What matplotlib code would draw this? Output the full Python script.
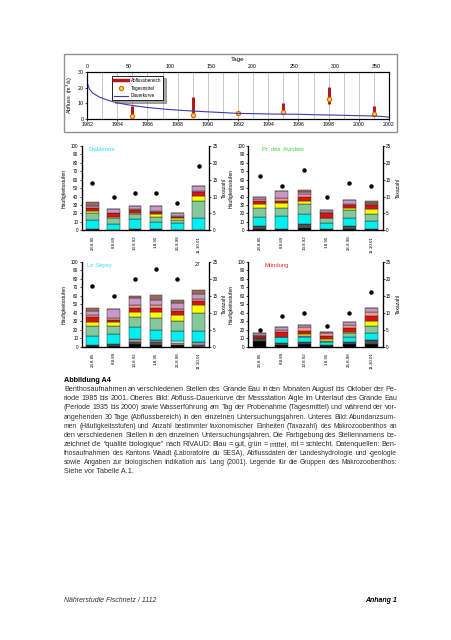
import numpy as np
import matplotlib
matplotlib.use("Agg")
import matplotlib.pyplot as plt
from matplotlib.patches import Rectangle
from matplotlib.lines import Line2D

plt.rcParams['font.family'] = ['Liberation Sans', 'DejaVu Sans']

W, H = 452, 640

# ---------------- data: upper chart ----------------
years = [1985, 1989, 1992, 1995, 1998, 2001]
q_low = [2.0, 2.5, 2.5, 3.6, 9.8, 2.0]       # Abflussbereich min
q_high = [8.0, 14.0, 4.5, 10.4, 20.4, 8.3]   # Abflussbereich max
q_mean = [1.9, 2.3, 3.6, 4.7, 12.6, 3.2]     # Tagesmittel

dk_days = [0, 3, 7, 15, 25, 36, 50, 72, 100, 130, 160, 182, 220, 257, 275, 300, 320, 340, 355, 365]
dk_q = [23.5, 19, 16.5, 14, 12, 10.4, 9, 7.4, 6, 5, 4.2, 3.6, 3.2, 3.0, 2.7, 2.5, 2.2, 2.0, 1.7, 1.2]

# ---------------- data: lower panels ----------------
dates = ["23.8.85", "8.8.89", "13.8.92", "1.8.95", "26.8.98", "11.10.01"]
group_colors = ['#000000', '#505050', '#9a9a9a', '#ffffff', '#00f0f0', '#84c89c',
                '#ffff00', '#e01010', '#f09a88', '#c898c8', '#9a6a58']

# segment heights per bar, bottom -> top, in order of group_colors
diablerets = [
    [2, 0, 0, 0, 10, 9, 2, 3, 1, 2, 4],
    [0, 0, 0, 0, 8, 6, 2, 4, 1, 4, 0],
    [2, 0, 0, 0, 11, 6, 2, 3, 1, 4, 0],
    [1.5, 0, 0, 0, 8.5, 6, 3, 3, 1, 6, 0],
    [0, 0, 0, 0, 8.5, 3.5, 3, 1, 1, 3.5, 0],
    [0, 0, 0, 0, 14, 21, 6, 5, 1, 6, 0],
]
aviolats = [
    [2, 3, 0, 0, 10.5, 11, 4.5, 4, 2, 2, 0],
    [1, 0, 0, 0, 16, 10, 5, 3, 3, 8.5, 0],
    [3, 5, 0, 0, 11, 12, 4, 5, 3, 3, 1.5],
    [1, 0, 0, 0, 7.5, 5.5, 1, 5, 2, 1.7, 0],
    [2, 3, 0, 0, 9, 10, 3, 3, 1, 4.5, 0],
    [1, 0, 0, 0, 9.5, 9, 6, 5, 1, 1, 2],
]
sepey = [
    [1, 1, 0, 0, 11, 12, 4, 6, 2, 5, 3.7],
    [1, 2, 0, 0, 11.5, 10.5, 4, 3, 2, 10, 0],
    [3, 3, 3, 0, 14, 12.5, 5.5, 5, 3, 8, 3],
    [2, 3, 3, 0, 12, 14, 7, 5, 3, 6, 6],
    [2, 0, 2, 3, 12, 11, 7, 5, 3, 7, 3],
    [0, 2, 3, 0, 13, 22, 9, 5, 2, 6, 5],
]
muendung = [
    [7, 3, 0, 0, 0, 0, 0, 3, 1, 1.7, 0],
    [2, 2, 0, 0, 7, 1, 0, 5, 3, 3.6, 0],
    [3, 2, 0, 0, 6, 2, 2, 4, 4, 2.6, 0],
    [1, 1, 0, 0, 4, 1, 2, 4, 3, 1, 0],
    [3, 2, 0, 0, 7, 4, 1, 5, 4, 3, 0],
    [3, 5, 0, 0, 8, 8, 6, 6, 5, 4.7, 0],
]
taxa_diablerets = [14, 10, 11, 11, 8, 19]
taxa_aviolats = [16, 13, 18, 10, 14, 13]
taxa_sepey = [18, 15, 20, 23, 20, 27]
taxa_muendung = [5, 9, 10, 6, 10, 16]

caption_lines = [
    "Benthosaufnahmen an verschiedenen Stellen des Grande Eau in den Monaten August bis Oktober der Pe-",
    "riode 1985 bis 2001. Oberes Bild: Abfluss-Dauerkurve der Messstation Aigle im Unterlauf des Grande Eau",
    "(Periode 1935 bis 2000) sowie Wasserführung am Tag der Probenahme (Tagesmittel) und während der vor-",
    "angehenden 30 Tage (Abflussbereich) in den einzelnen Untersuchungsjahren. Unteres Bild: Abundanzsum-",
    "men (Häufigkeitsstufen) und Anzahl bestimmter taxonomischer Einheiten (Taxazahl) des Makrozoobenthos an",
    "den verschiedenen Stellen in den einzelnen Untersuchungsjahren. Die Farbgebung des Stellennamens be-",
    "zeichnet die “qualité biologique” nach RIVAUD: Blau = gut, grün = mittel, rot = schlecht. Datenquellen: Ben-",
    "thosaufnahmen des Kantons Waadt (Laboratoire du SESA), Abflussdaten der Landeshydrologie und -geologie",
    "sowie Angaben zur biologischen Indikation aus Lang (2001). Legende für die Gruppen des Makrozoobenthos:",
    "Siehe vor Tabelle A.1.",
]


def px(x0, y0, x1, y1):
    return [x0 / W, 1 - y1 / H, (x1 - x0) / W, (y1 - y0) / H]


fig = plt.figure(figsize=(W / 100, H / 100), dpi=100)

# ---------------- upper chart ----------------
fig.patches.append(Rectangle((64 / W, 1 - 132 / H), 333 / W, 78 / H, transform=fig.transFigure,
                             fill=False, ec='#909090', lw=1.0))
ax = fig.add_axes(px(87, 72, 389, 119))
ax.set_xlim(1982, 2002)
ax.set_ylim(0, 30)
ax.set_xticks(range(1982, 2003, 2))
ax.set_xticks(range(1982, 2003), minor=True)
ax.set_yticks([0, 10, 20, 30])
ax.grid(axis='x', which='both', color='#b0b0b0', lw=0.5)
ax.tick_params(labelsize=3.8, length=1.5, width=0.5, pad=1)
ax.tick_params(which='minor', length=0)
ax.set_ylabel("Abfluss  (m$^3$/s)", fontsize=4, labelpad=2)
for s in ax.spines.values():
    s.set_linewidth(0.8)
ax.vlines(years, q_low, q_high, color='#b01c1c', lw=2.2, zorder=3)
ax.plot(years, q_mean, 'o', mfc='#ffd860', mec='#e07000', ms=3, mew=0.9, zorder=4)

ax2 = ax.twiny()
ax2.set_xlim(0, 365)
ax2.set_xticks(range(0, 351, 50))
ax2.tick_params(labelsize=3.8, length=0, pad=2)
ax2.set_xlabel("Tage", fontsize=4.5, labelpad=2)
ax2.plot(dk_days, dk_q, color='#3a3ab0', lw=0.8)
handles = [Line2D([], [], color='#b01c1c', lw=2.5),
           Line2D([], [], ls='', marker='o', mfc='#ffd860', mec='#e07000', ms=3, mew=0.9),
           Line2D([], [], color='#3a3ab0', lw=0.8)]
leg = ax2.legend(handles, ["Abflussbereich", "Tagesmittel", "Dauerkurve"], loc='upper left',
                 bbox_to_anchor=(0.075, 0.97), fontsize=3.3, frameon=True, fancybox=False,
                 shadow=True, handlelength=3.2, borderpad=0.4, labelspacing=0.65, handletextpad=0.5)
leg.get_frame().set_edgecolor('black')
leg.get_frame().set_linewidth(0.6)


# ---------------- lower panels ----------------
def panel(rect, name, name_color, name_x, stacks, taxa):
    a = fig.add_axes(rect)
    x = np.arange(len(stacks))
    vals = np.array(stacks, dtype=float)
    bottom = np.zeros(len(stacks))
    for g, col in enumerate(group_colors):
        h = vals[:, g]
        a.bar(x, h, 0.58, bottom=bottom, color=col, edgecolor='#303030', lw=0.35, zorder=2)
        bottom += h
    a.set_xlim(-0.5, len(stacks) - 0.5)
    a.set_ylim(0, 100)
    a.set_yticks(range(0, 101, 10))
    a.set_xticks(x)
    a.set_xticklabels(dates, rotation=90, fontsize=3.2)
    a.tick_params(axis='y', labelsize=3.3, length=1.5, width=0.5, pad=1)
    a.tick_params(axis='x', length=0, pad=4)
    a.spines['top'].set_visible(False)
    for s in ['left', 'bottom', 'right']:
        a.spines[s].set_linewidth(0.9)
    a.set_ylabel("Häufigkeitsstufen", fontsize=3.6, labelpad=3)
    a.text(name_x, 0.99, name, transform=a.transAxes, color=name_color, fontsize=4.2, va='top')

    b = a.twinx()
    b.set_ylim(0, 25)
    b.set_yticks(range(0, 26, 5))
    b.tick_params(labelsize=3.3, length=1.5, width=0.5, pad=1)
    b.spines['top'].set_visible(False)
    b.set_ylabel("Taxazahl", fontsize=3.6, labelpad=3)
    t = np.array(taxa, dtype=float)
    inside = t <= 25
    b.plot(x[inside], t[inside], 'o', color='black', ms=2.2, zorder=5)
    for xi, ti in zip(x[~inside], t[~inside]):
        b.text(xi - 0.05, 24.3, f"{ti:.0f}", fontsize=3.8, ha='center', va='center')
    return a


panel(px(81.7, 146, 209.3, 230.3), "Diablerets", '#30e0f0', 0.05, diablerets, taxa_diablerets)
panel(px(248.3, 146, 382.7, 230.3), "Pt. des  Aviolats", '#40d040', 0.1, aviolats, taxa_aviolats)
panel(px(81.7, 262, 209.3, 346.7), "Le Sépey", '#30e0f0', 0.04, sepey, taxa_sepey)
panel(px(248.3, 262, 382.7, 346.7), "Mündung", '#e03030', 0.12, muendung, taxa_muendung)

# ---------------- caption (justified lines) ----------------
fig.text(64 / W, 1 - 380.5 / H, "Abbildung A4", fontsize=5.2, fontweight='bold', va='center')

renderer = fig.canvas.get_renderer()
x0, x1 = 64, 397
for i, line in enumerate(caption_lines):
    y = 1 - (389.7 + i * 9.12) / H
    if i == len(caption_lines) - 1:
        fig.text(x0 / W, y, line, fontsize=5.2, color='#303030', va='center')
        continue
    words = line.split(' ')
    texts = [fig.text(0, y, w, fontsize=5.2, color='#303030', va='center') for w in words]
    fs = 5.2
    while True:
        widths = [t.get_window_extent(renderer).width for t in texts]
        gap = (x1 - x0 - sum(widths)) / (len(words) - 1)
        if gap >= 1.4 or fs < 3.5:
            break
        fs -= 0.1
        for t in texts:
            t.set_fontsize(fs)
    pos = x0
    for t, wd in zip(texts, widths):
        t.set_x(pos / W)
        pos += wd + gap

fig.text(64 / W, 1 - 601 / H, "Nährerstudie Fischnetz / 1112", fontsize=5, style='italic',
         color='#303030', va='center')
fig.text(397 / W, 1 - 601 / H, "Anhang 1", fontsize=5, style='italic', fontweight='bold',
         ha='right', va='center')

fig.savefig("out.png", dpi=100)
